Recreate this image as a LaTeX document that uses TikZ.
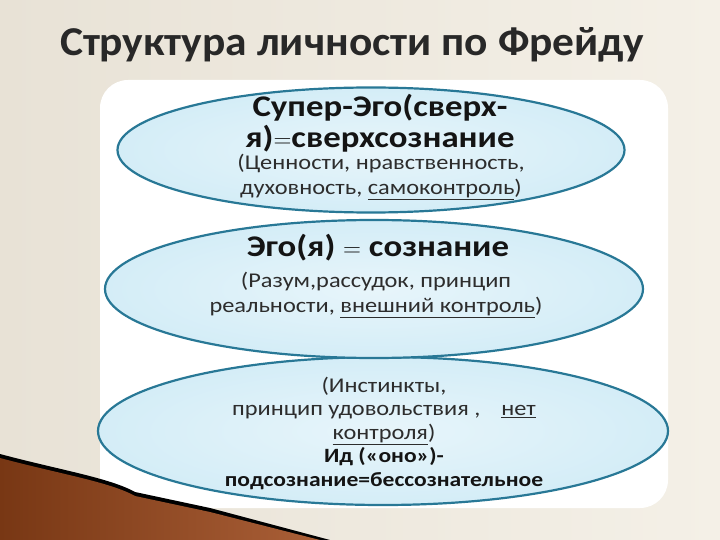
\documentclass[tikz,border=0pt]{standalone}
\usepackage{fontspec}
\setmainfont{Carlito}
\newfontfamily\widefont[FakeStretch=1.16]{Carlito}
\newfontfamily\titlefont[FakeStretch=1.06]{Carlito}
\usetikzlibrary{shapes.geometric}
\definecolor{bgA}{RGB}{232,226,214}
\definecolor{bgB}{RGB}{244,240,231}
\definecolor{ellfill}{RGB}{212,237,247}
\definecolor{elldraw}{RGB}{40,120,150}
\definecolor{brownA}{RGB}{120,55,20}
\definecolor{brownB}{RGB}{170,95,55}
\definecolor{txtdark}{RGB}{20,20,20}
\definecolor{txtgray}{RGB}{45,45,45}
\definecolor{titlecol}{RGB}{40,40,40}
\tikzset{
  layer/.style={ellipse, draw=elldraw, line width=2.2pt, inner color=ellfill!55!white, outer color=ellfill},
  head/.style={font=\widefont\fontsize{30}{31}\selectfont\bfseries, text=txtdark, align=center},
  sub/.style={font=\widefont\fontsize{21}{25}\selectfont, text=txtgray, align=center},
  idhead/.style={font=\widefont\fontsize{20.3}{24}\selectfont\bfseries, text=txtdark, align=center},
}
\begin{document}
\begin{tikzpicture}[x=1pt,y=-1pt]
\useasboundingbox (0,0) rectangle (720,540);
\shade[left color=bgA, right color=bgB] (0,0) rectangle (720,540);
\node (title) [font=\titlefont\fontsize{41}{46}\selectfont\bfseries, text=titlecol] at (352,45) {Структура личности по Фрейду};
% panel
\fill[white] (100,80) [rounded corners=28] rectangle (668,508);
% brown wedge
\fill[black] (0,454) .. controls (60,470) and (110,478) .. (135,492) -- (210,508) -- (330,540) -- (0,540) -- cycle;
\shade[left color=brownA, right color=brownB] (0,458) .. controls (60,474) and (110,482) .. (135,496) -- (210,512) -- (320,540) -- (0,540) -- cycle;
% ellipses
\node (id) [layer, minimum width=570, minimum height=148] at (383,431) {};
\node (ego) [layer, minimum width=538, minimum height=138] at (374,289) {};
\node (sup) [layer, minimum width=507, minimum height=125] at (371,150) {};
% texts
\node (t1) [head] at (380,123) {Супер-Эго(сверх-\\я)$=$сверхсознание};
\node (t2) [sub] at (381,177) {(Ценности, нравственность,\\духовность, \underline{самоконтроль})};
\node (t3) [head] at (378,248) {Эго(я) $=$ сознание};
\node (t4) [sub] at (376,295) {(Разум,рассудок, принцип\\реальности, \underline{внешний контроль})};
\node (t5) [sub, font=\widefont\fontsize{21}{23.5}\selectfont] at (384,411) {(Инстинкты,\\принцип удовольствия ,\quad \underline{нет}\\\underline{контроля})};
\node (t6) [idhead] at (384,469) {Ид («оно»)-\\подсознание=бессознательное};
\end{tikzpicture}
\end{document}
